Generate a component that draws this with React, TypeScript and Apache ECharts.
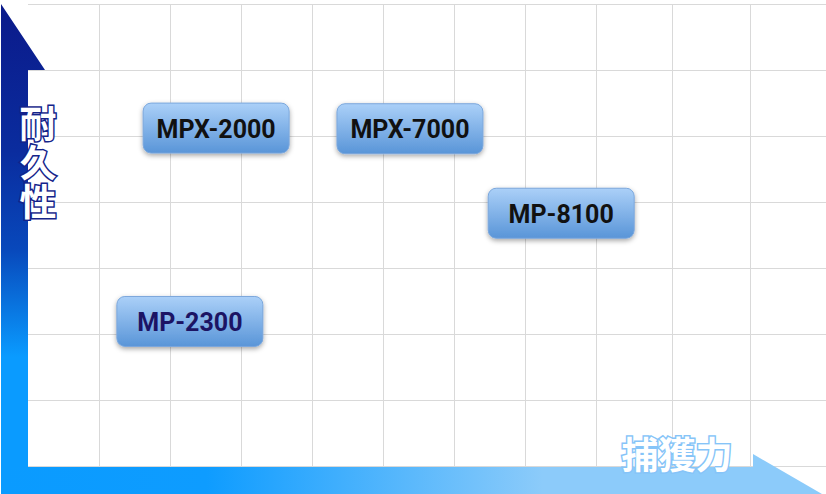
import React, { useEffect, useRef } from "react";
import * as echarts from "echarts";

// Positioning map data
const products = ["MPX-2000", "MPX-7000", "MP-8100", "MP-2300"];
const captureScore = [2.65, 5.38, 7.51, 2.28]; // x: 捕獲力
const durabilityScore = [5.12, 5.11, 3.83, 2.19]; // y: 耐久性
const labelColors = ["#111111", "#111111", "#111111", "#1c1464"];

// Axis / grid values
const xMax = 11.24;
const yMax = 7;
const xGridLines = [1, 2, 3, 4, 5, 6, 7, 8, 9.08, 10.17];
const xAxisTitle = "捕獲力";
const yAxisTitle = "耐久性";

export default function App() {
  const ref = useRef<HTMLDivElement>(null);

  useEffect(() => {
    if (!ref.current) return;
    const chart = echarts.init(ref.current, undefined, { renderer: "svg" });

    const boxData = products.map((p, i) => [captureScore[i], durabilityScore[i], p, labelColors[i]]);

    const yTitleChars = yAxisTitle.split("").map((ch, i) => ({
      type: "text",
      z: 110,
      silent: true,
      style: {
        text: ch,
        x: 38,
        y: 121.5 + i * 39,
        align: "center",
        verticalAlign: "middle",
        fontFamily: "Noto Sans CJK JP",
        fontWeight: "bold",
        fontSize: 37,
        fill: "#ffffff",
        stroke: "#14238a",
        lineWidth: 3,
      },
    }));

    const option: any = {
      animation: false,
      backgroundColor: "#ffffff",
      grid: { left: 28, right: 0, top: 4, bottom: 28, containLabel: false },
      xAxis: {
        type: "value",
        min: 0,
        max: xMax,
        axisLine: { show: false },
        axisTick: { show: false },
        axisLabel: { show: false },
        splitLine: { show: false },
      },
      yAxis: {
        type: "value",
        min: 0,
        max: yMax,
        interval: 1,
        axisLine: { show: false },
        axisTick: { show: false },
        axisLabel: { show: false },
        splitLine: { show: true, lineStyle: { color: "#d9d9d9", width: 1 } },
      },
      series: [
        {
          type: "line",
          data: [],
          silent: true,
          markLine: {
            silent: true,
            symbol: ["none", "none"],
            label: { show: false },
            lineStyle: { color: "#d9d9d9", width: 1, type: "solid" },
            data: xGridLines.map((v) => ({ xAxis: v })),
          },
        },
        {
          type: "custom",
          z: 10,
          data: boxData,
          renderItem: (params: any, api: any) => {
            const c = api.coord([api.value(0), api.value(1)]);
            const w = 146;
            const h = 50;
            const idx = params.dataIndex;
            return {
              type: "group",
              children: [
                {
                  type: "rect",
                  shape: { x: c[0] - w / 2, y: c[1] - h / 2, width: w, height: h, r: 8 },
                  style: {
                    fill: new echarts.graphic.LinearGradient(0, 0, 0, 1, [
                      { offset: 0, color: "#abd0f8" },
                      { offset: 1, color: "#5995d8" },
                    ]),
                    stroke: "#7ba7dc",
                    lineWidth: 1,
                    shadowBlur: 5,
                    shadowOffsetY: 2,
                    shadowColor: "rgba(0,0,0,0.35)",
                  },
                },
                {
                  type: "text",
                  style: {
                    text: products[idx],
                    x: c[0],
                    y: c[1] + 1,
                    align: "center",
                    verticalAlign: "middle",
                    fontFamily: "Roboto",
                    fontWeight: "bold",
                    fontSize: 25,
                    fill: labelColors[idx],
                  },
                },
              ],
            };
          },
        },
      ],
      graphic: [
        {
          type: "polygon",
          z: 100,
          silent: true,
          shape: {
            points: [
              [1, 4],
              [45, 70],
              [28, 70],
              [28, 494],
              [1, 494],
            ],
          },
          style: {
            fill: new echarts.graphic.LinearGradient(0, 0, 0, 1, [
              { offset: 0, color: "#0b1a8a" },
              { offset: 0.3, color: "#0a2c9e" },
              { offset: 0.5, color: "#0848bb" },
              { offset: 0.72, color: "#0a9bff" },
              { offset: 1, color: "#0a9bff" },
            ]),
          },
        },
        {
          type: "polygon",
          z: 100,
          silent: true,
          shape: {
            points: [
              [1, 467],
              [753, 467],
              [753, 454],
              [822, 494],
              [1, 494],
            ],
          },
          style: {
            fill: new echarts.graphic.LinearGradient(0, 0, 1, 0, [
              { offset: 0, color: "#0a9bff" },
              { offset: 0.25, color: "#0e9cff" },
              { offset: 0.66, color: "#8ccbfa" },
              { offset: 1, color: "#8ccbfa" },
            ]),
          },
        },
        ...yTitleChars,
        {
          type: "text",
          z: 110,
          silent: true,
          style: {
            text: xAxisTitle,
            x: 677,
            y: 453,
            align: "center",
            verticalAlign: "middle",
            fontFamily: "Noto Sans CJK JP",
            fontWeight: "bold",
            fontSize: 37,
            fill: "#ffffff",
            stroke: "#86c4f8",
            lineWidth: 3,
          },
        },
      ],
    };

    chart.setOption(option);
    return () => chart.dispose();
  }, []);

  return (
    <div
      ref={ref}
      style={{ position: "absolute", left: 0, top: 0, width: 826, height: 494 }}
    />
  );
}
